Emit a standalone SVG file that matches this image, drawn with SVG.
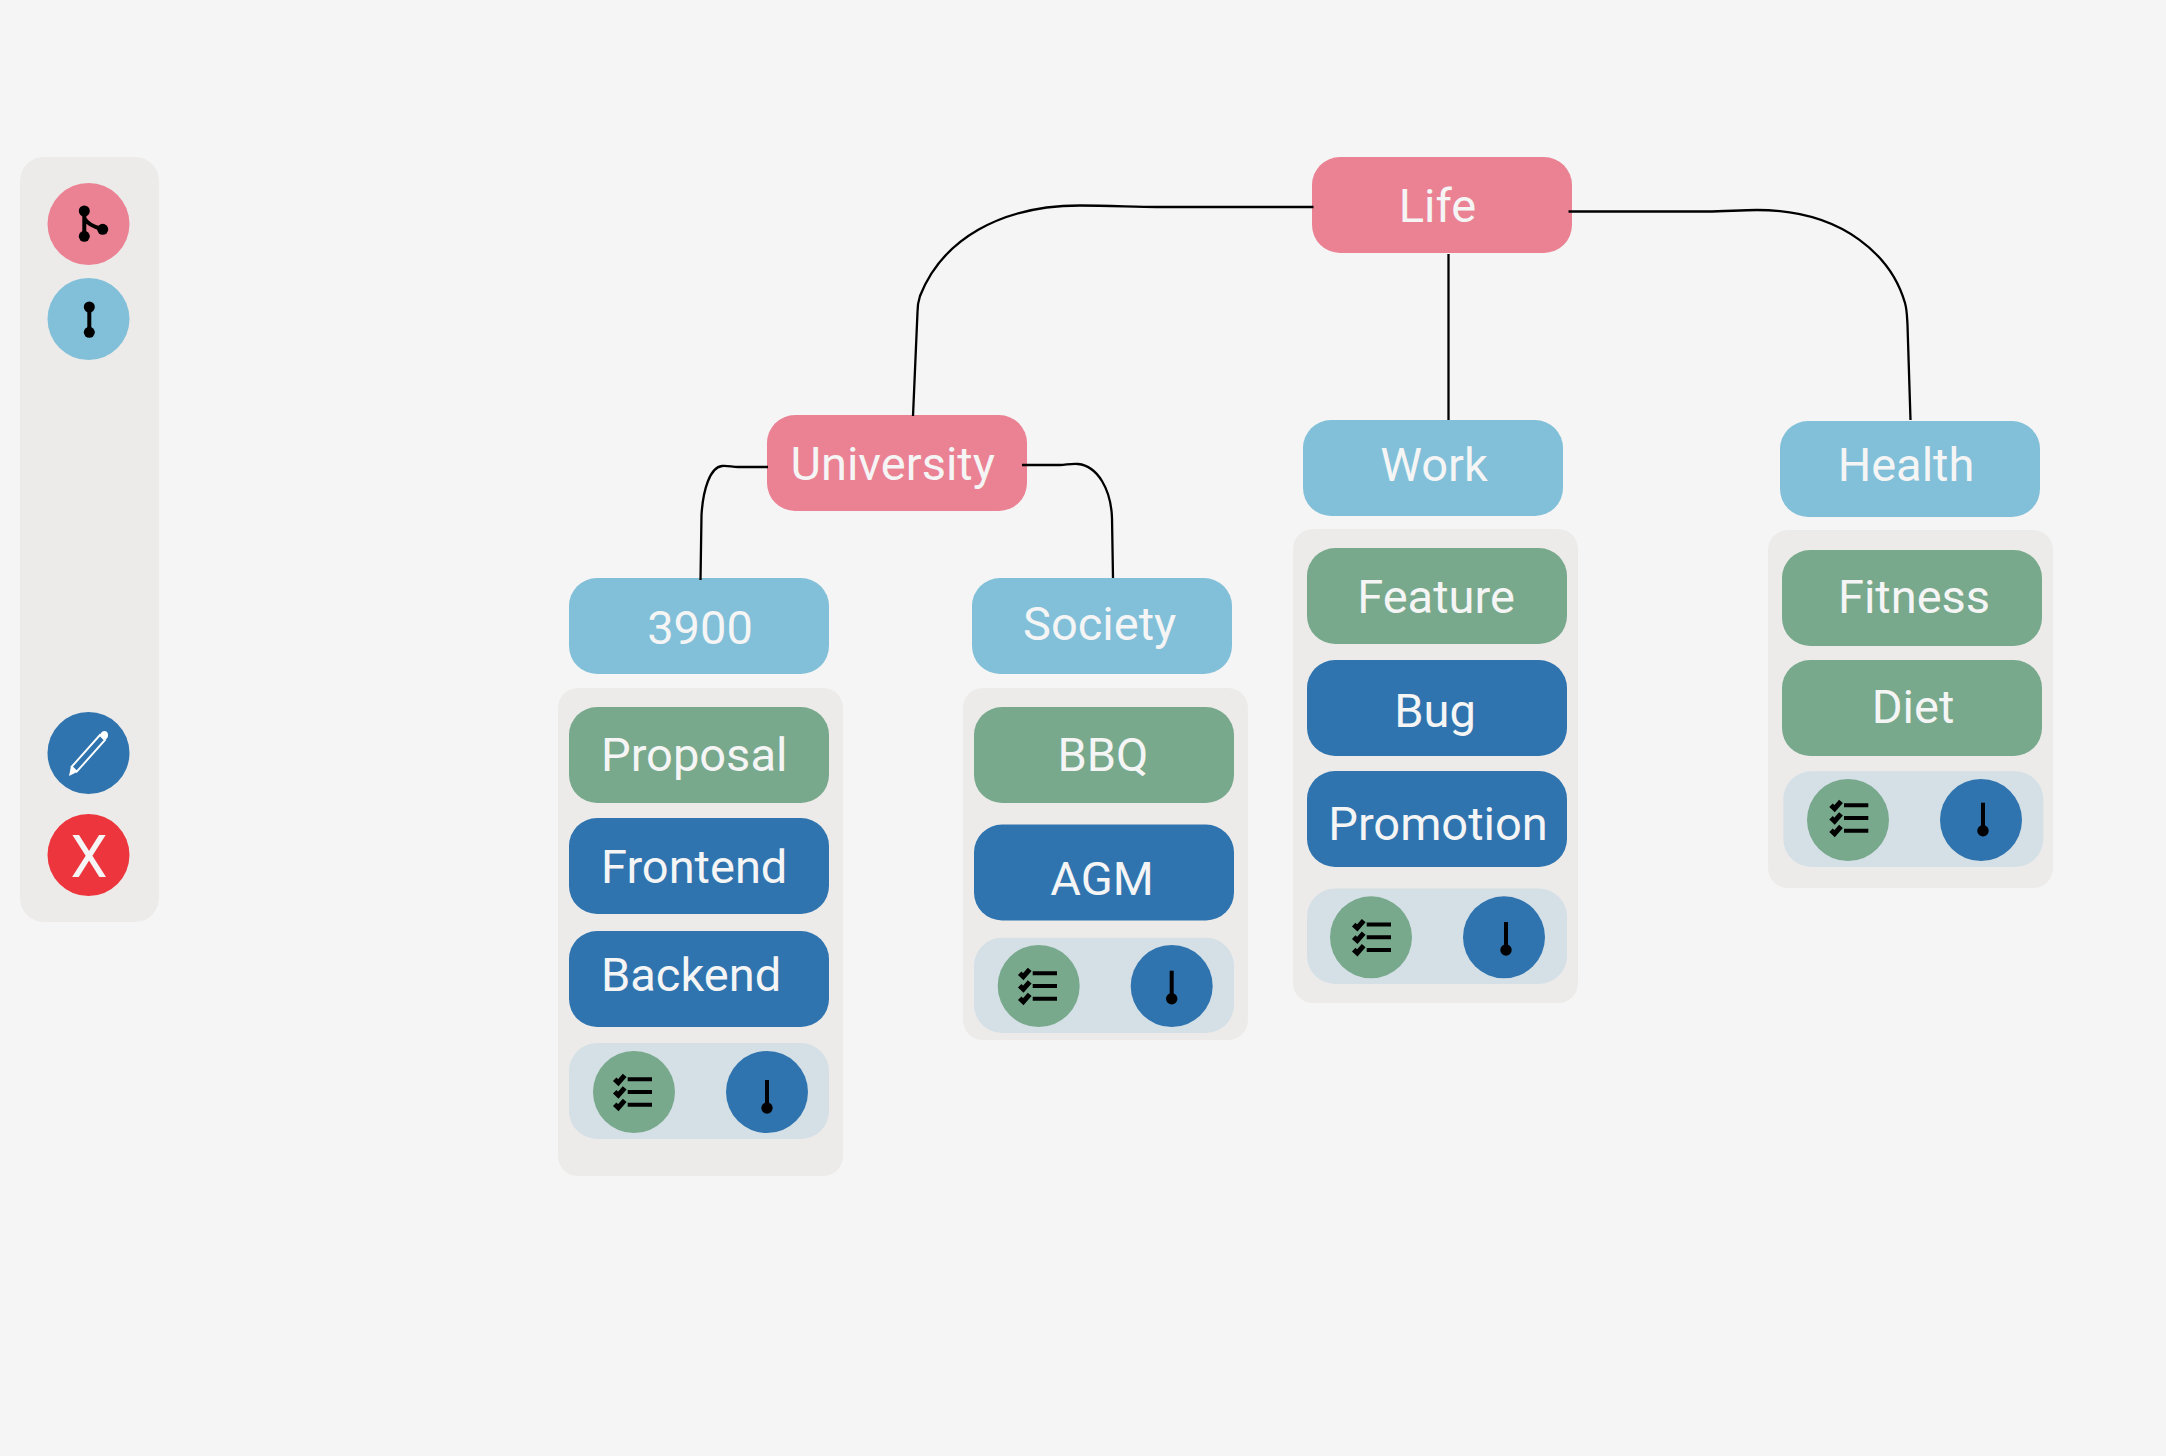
<svg xmlns="http://www.w3.org/2000/svg" width="2166" height="1456" viewBox="0 0 2166 1456">
<style>
text{font-family:Roboto,"Liberation Sans",sans-serif;font-size:47px;font-weight:400;fill:#f5f5f5}
.m{text-anchor:middle}
.pk{fill:#ea8294}.lb{fill:#82c0d9}.gr{fill:#78a98c}.db{fill:#2f74af}.rd{fill:#ed353d}
.panel{fill:#ecebe9}.bar{fill:#d5e0e6}
.conn{fill:none;stroke:#000;stroke-width:2.3}
.ic{fill:none;stroke:#000;stroke-width:4}
.tick{fill:none;stroke:#000;stroke-width:5}
.icw{fill:none;stroke:#fff;stroke-width:1.9}
</style>
<defs>
<g id="check">
<path class="ic" d="M-6.300 -12.700H18M-6.300 0H18M-6.300 12.700H18"/>
<path class="tick" d="M-19.300 -12.700L-15.700 -9.300L-9.300 -16.700M-19.300 -0.200L-15.700 3.200L-9.300 -4.200M-19.300 12.300L-15.700 15.700L-9.300 8.300"/></g>
<g id="therm"><path class="ic" d="M0 -14V12"/><circle cy="14" r="5.700"/></g>
</defs>
<rect width="2166" height="1456" fill="#f5f5f5"/>
<g id="sidebar">
<rect class="panel" x="20" y="157" width="139" height="765" rx="24"/>
<g id="btn-branch"><circle class="pk" cx="88.500" cy="224" r="41"/><path class="ic" d="M84.300 211V236M84.300 218C87 224 94 227 102.700 229.300"/><circle cx="84.300" cy="211" r="5.500"/><circle cx="84.300" cy="236.300" r="5.500"/><circle cx="102.700" cy="229.300" r="5.500"/></g>
<g id="btn-node"><circle class="lb" cx="88.500" cy="319" r="41"/><path class="ic" d="M89.300 307V332"/><circle cx="89.300" cy="307" r="5.500"/><circle cx="89.300" cy="332.300" r="5.500"/></g>
<g id="btn-edit"><circle class="db" cx="88.500" cy="753" r="41"/><path class="icw" d="M71.700 766.700L100 735L105 740L76.700 771.700Z"/><path d="M69 776L71 766L77 772ZM100 735.500C101 731 105 730 107 732C109 735 108 738 105 740Z" fill="#fff"/></g>
<g id="btn-delete"><circle class="rd" cx="88.500" cy="855" r="41"/><text class="m" x="89" y="877" style="font-size:59px">X</text></g>
</g>
<g id="life"><rect class="pk" x="1312" y="157" width="260" height="96" rx="28"/><text class="m" x="1437.500" y="222">Life</text></g>
<g id="university"><rect class="pk" x="767" y="415" width="260" height="96" rx="28"/><text x="790.500" y="480">University</text></g>
<g id="work"><rect class="lb" x="1303" y="420" width="260" height="96" rx="28"/><text class="m" x="1434" y="480.500">Work</text></g>
<g id="health"><rect class="lb" x="1780" y="421" width="260" height="96" rx="28"/><text class="m" x="1906" y="480.500">Health</text></g>
<g id="n3900"><rect class="lb" x="569" y="578" width="260" height="96" rx="28"/><text class="m" x="700" y="644">3900</text></g>
<g id="society"><rect class="lb" x="972" y="578" width="260" height="96" rx="28"/><text x="1023" y="640">Society</text></g>
<g id="list-3900">
<rect class="panel" x="558" y="688" width="285" height="488" rx="20"/>
<g id="proposal"><rect class="gr" x="569" y="707" width="260" height="96" rx="28"/><text x="601" y="771">Proposal</text></g>
<g id="frontend"><rect class="db" x="569" y="818" width="260" height="96" rx="28"/><text x="601" y="883">Frontend</text></g>
<g id="backend"><rect class="db" x="569" y="931" width="260" height="96" rx="28"/><text x="601" y="990.500">Backend</text></g>
<rect class="bar" x="569" y="1043" width="260" height="96" rx="28"/>
<circle class="gr" cx="634" cy="1092" r="41"/><circle class="db" cx="767" cy="1092" r="41"/>
<use href="#check" x="634" y="1092"/><use href="#therm" x="767" y="1094"/>
</g>
<g id="list-society">
<rect class="panel" x="963" y="688" width="285" height="352" rx="20"/>
<g id="bbq"><rect class="gr" x="974" y="707" width="260" height="96" rx="28"/><text class="m" x="1103" y="771">BBQ</text></g>
<g id="agm"><rect class="db" x="974" y="824.500" width="260" height="96" rx="28"/><text class="m" x="1102" y="894.500">AGM</text></g>
<rect class="bar" x="974" y="937.700" width="260" height="95.300" rx="28"/>
<circle class="gr" cx="1038.700" cy="986" r="41"/><circle class="db" cx="1171.700" cy="986" r="41"/>
<use href="#check" x="1039" y="986"/><use href="#therm" x="1171.700" y="984.700"/>
</g>
<g id="list-work">
<rect class="panel" x="1293" y="529" width="285" height="474" rx="20"/>
<g id="feature"><rect class="gr" x="1307" y="548" width="260" height="96" rx="28"/><text class="m" x="1436" y="613">Feature</text></g>
<g id="bug"><rect class="db" x="1307" y="660" width="260" height="96" rx="28"/><text class="m" x="1435" y="727">Bug</text></g>
<g id="promotion"><rect class="db" x="1307" y="771" width="260" height="96" rx="28"/><text class="m" x="1438" y="840">Promotion</text></g>
<rect class="bar" x="1307" y="888.500" width="260" height="95.500" rx="28"/>
<circle class="gr" cx="1371" cy="937.300" r="41"/><circle class="db" cx="1504" cy="937.300" r="41"/>
<use href="#check" x="1373" y="937.300"/><use href="#therm" x="1506" y="936"/>
</g>
<g id="list-health">
<rect class="panel" x="1768" y="530" width="285" height="358" rx="20"/>
<g id="fitness"><rect class="gr" x="1782" y="550" width="260" height="96" rx="28"/><text class="m" x="1914" y="613">Fitness</text></g>
<g id="diet"><rect class="gr" x="1782" y="660" width="260" height="96" rx="28"/><text class="m" x="1913" y="723">Diet</text></g>
<rect class="bar" x="1783.300" y="771.300" width="260" height="95.700" rx="28"/>
<circle class="gr" cx="1848" cy="820" r="41"/><circle class="db" cx="1981" cy="820" r="41"/>
<use href="#check" x="1850.300" y="818"/><use href="#therm" x="1983" y="816.700"/>
</g>
<g id="connectors">
<path class="conn" d="M1313.500 207H1157C1135 207 1110 205.500 1080 205.500C1000 205.500 942 240 920 296C918 302 917.500 306 917.500 312L913 416"/>
<path class="conn" d="M1448.500 254V420"/>
<path class="conn" d="M1568.500 211.500H1707C1725 211.500 1740 210 1757 210C1845 210 1892 258 1905 303C1907 310 1907 316 1907.500 325L1910.500 420"/>
<path class="conn" d="M768 467H738C732 467 728 465.500 722 466C710 467 703 490 701.500 515L700.500 580"/>
<path class="conn" d="M1022 465H1060C1066 465 1070 463.500 1078 464C1098 466 1111 490 1112 518L1113 578"/>
</g>
</svg>
